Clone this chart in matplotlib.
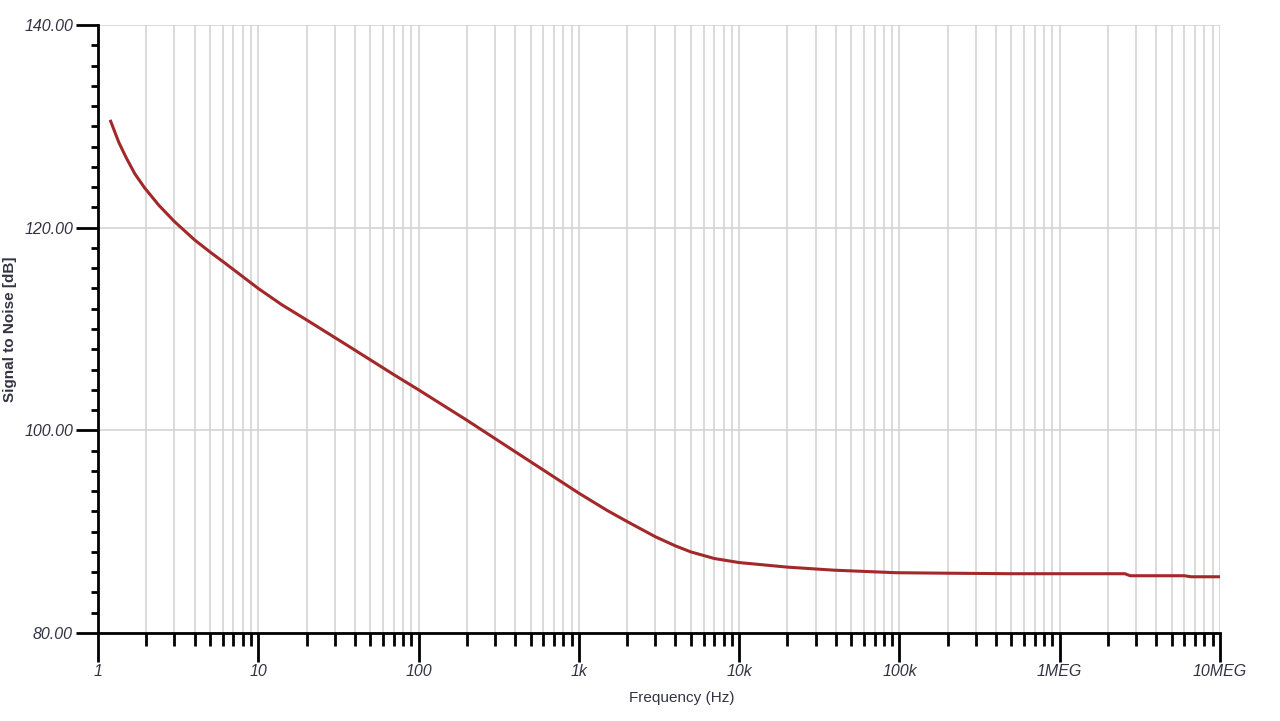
import numpy as np
import matplotlib.pyplot as plt
from matplotlib.ticker import FixedLocator, LogLocator, NullFormatter

# Signal to noise vs frequency
freq = [1.2, 1.35, 1.5, 1.7, 1.96, 2.4, 3.0, 4.0, 5.0, 6.2, 10, 14, 20, 35,
        70, 100, 200, 500, 1e3, 1.5e3, 2e3, 3e3, 4e3, 5e3, 7e3, 1e4, 2e4,
        3.9e4, 9.5e4, 2e5, 5e5, 1e6, 2.55e6, 2.75e6, 6e6, 6.6e6, 1e7]
snr = [130.5, 128.4, 126.9, 125.3, 123.9, 122.2, 120.6, 118.8, 117.6, 116.5,
       114.0, 112.4, 110.9, 108.5, 105.5, 104.0, 101.0, 96.9, 93.8, 92.1,
       91.0, 89.5, 88.6, 88.0, 87.35, 86.95, 86.5, 86.2, 85.95, 85.9, 85.85,
       85.85, 85.85, 85.65, 85.65, 85.55, 85.55]

xticks = [1, 10, 100, 1e3, 1e4, 1e5, 1e6, 1e7]
xlabels = ['1', '10', '100', '1k', '10k', '100k', '1MEG', '10MEG']
yticks = [80, 100, 120, 140]

plt.rcParams['font.family'] = ['Liberation Sans', 'DejaVu Sans']

fig = plt.figure(figsize=(12.8, 7.21), dpi=100)
ax = fig.add_axes([98 / 1280, 1 - 633 / 721, 1122 / 1280, 608 / 721])

ax.plot(freq, snr, color='#a3282a', lw=2.2)

ax.set_xscale('log')
ax.set_xlim(1, 1e7)
ax.set_ylim(80, 140)

ax.xaxis.set_major_locator(FixedLocator(xticks))
ax.set_xticklabels(xlabels, style='italic', fontsize=11.5, color='#333344')
ax.xaxis.set_minor_locator(LogLocator(base=10, subs=np.arange(2, 10)))
ax.xaxis.set_minor_formatter(NullFormatter())

ax.yaxis.set_major_locator(FixedLocator(yticks))
ax.set_yticklabels([f'{v:.2f}' for v in yticks], style='italic',
                   fontsize=11.5, color='#333344')
ax.yaxis.set_minor_locator(FixedLocator(np.arange(80, 141, 2)))

ax.tick_params(axis='y', which='major', direction='out', length=16,
               width=2, color='black', pad=2)
ax.tick_params(axis='y', which='minor', direction='out', length=5,
               width=2, color='black')
ax.tick_params(axis='x', which='major', direction='out', length=21,
               width=2, color='black', pad=1)
ax.tick_params(axis='x', which='minor', direction='out', length=9,
               width=2, color='black')

ax.grid(True, which='major', color='#d4d4d4', lw=1.2)
ax.grid(True, which='minor', axis='x', color='#d4d4d4', lw=1.2)

for s in ['top', 'right']:
    ax.spines[s].set_visible(False)
for s in ['left', 'bottom']:
    ax.spines[s].set_linewidth(2)
    ax.spines[s].set_color('black')

ax.set_xlabel('Frequency (Hz)', fontsize=11, color='#333344')
ax.xaxis.set_label_coords(0.52, -0.095)
ax.set_ylabel('Signal to Noise [dB]', fontsize=11, fontweight='bold',
              color='#333344', labelpad=5)

fig.savefig('out.png', dpi=100)
